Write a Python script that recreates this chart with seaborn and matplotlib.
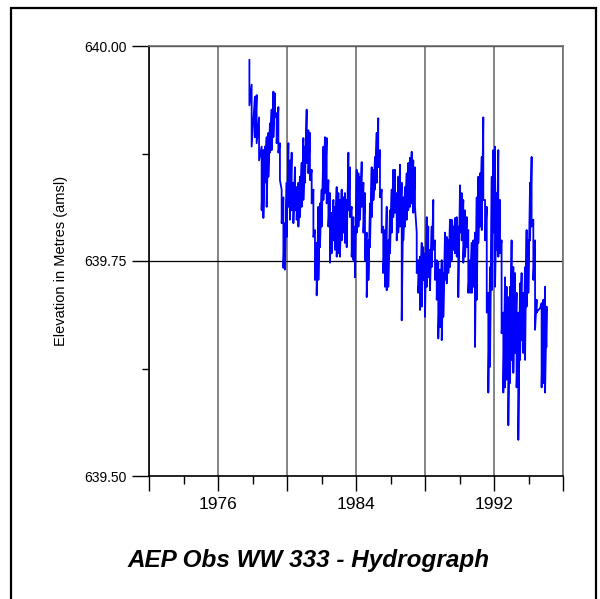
import numpy as np
import pandas as pd
import matplotlib
matplotlib.use("Agg")
import matplotlib.pyplot as plt
import seaborn as sns
from matplotlib.patches import Rectangle
from matplotlib.ticker import FixedLocator, FormatStrFormatter

# ---- data (upper / lower envelope per sample column) ----
years = [
    1977.82, 1977.95, 1978.14, 1978.24, 1978.38, 1978.53, 1978.63, 1978.72, 1978.82, 1978.92,
    1979.01, 1979.11, 1979.21, 1979.30, 1979.40, 1979.50, 1979.59, 1979.69, 1979.79, 1979.88,
    1979.98, 1980.08, 1980.17, 1980.27, 1980.37, 1980.46, 1980.56, 1980.66, 1980.75, 1980.85,
    1980.95, 1981.04, 1981.14, 1981.24, 1981.33, 1981.43, 1981.53, 1981.62, 1981.72, 1981.82,
    1981.91, 1982.01, 1982.11, 1982.20, 1982.30, 1982.40, 1982.49, 1982.59, 1982.69, 1982.78,
    1982.88, 1982.98, 1983.07, 1983.17, 1983.27, 1983.36, 1983.46, 1983.56, 1983.65, 1983.75,
    1983.85, 1983.94, 1984.04, 1984.14, 1984.23, 1984.33, 1984.43, 1984.52, 1984.62, 1984.72,
    1984.81, 1984.91, 1985.01, 1985.10, 1985.20, 1985.29, 1985.39, 1985.49, 1985.58, 1985.68,
    1985.78, 1985.87, 1985.97, 1986.07, 1986.16,
    1986.26, 1986.36, 1986.45, 1986.55, 1986.65, 1986.74, 1986.84, 1986.94, 1987.03, 1987.13,
    1987.23, 1987.32, 1987.42, 1987.52, 1987.61, 1987.71, 1987.81, 1987.90, 1988.00, 1988.10,
    1988.19, 1988.29, 1988.39, 1988.48, 1988.58, 1988.68, 1988.77, 1988.87, 1988.97, 1989.06,
    1989.16, 1989.26, 1989.35, 1989.45, 1989.55, 1989.64, 1989.74, 1989.84, 1989.93, 1990.03,
    1990.13, 1990.22, 1990.32, 1990.42, 1990.51,
    1990.61, 1990.71, 1990.80, 1990.90, 1991.00, 1991.09, 1991.19, 1991.29, 1991.38, 1991.48,
    1991.58, 1991.67, 1991.77, 1991.87, 1991.96, 1992.06, 1992.16, 1992.25, 1992.35, 1992.44,
    1992.54, 1992.64, 1992.73, 1992.83, 1992.93, 1993.02, 1993.12, 1993.22, 1993.31, 1993.41,
    1993.51, 1993.60, 1993.70, 1993.80, 1993.89, 1993.99, 1994.09, 1994.18, 1994.28, 1994.38,
    1994.47, 1994.57, 1994.67, 1994.76, 1994.86, 1994.96, 1995.05,
]

highs = [
    639.984, 639.955, 639.941, 639.943, 639.917, 639.883, 639.879, 639.883, 639.894, 639.899,
    639.910, 639.926, 639.947, 639.945, 639.922, 639.929, 639.887, 639.833, 639.824, 639.794,
    639.841, 639.887, 639.867, 639.876, 639.841, 639.859, 639.836, 639.841, 639.848, 639.864,
    639.893, 639.883, 639.926, 639.902, 639.899, 639.856, 639.833, 639.786, 639.771, 639.813,
    639.817, 639.833, 639.883, 639.894, 639.893, 639.844, 639.829, 639.806, 639.821, 639.813,
    639.836, 639.829, 639.821, 639.833, 639.824, 639.829, 639.821, 639.876, 639.859, 639.813,
    639.801, 639.790, 639.856, 639.852, 639.848, 639.865, 639.841, 639.829, 639.783, 639.774,
    639.817, 639.859, 639.856, 639.871, 639.899, 639.916, 639.879, 639.833, 639.790, 639.786,
    639.813, 639.774, 639.809, 639.833, 639.856,
    639.856, 639.829, 639.848, 639.862, 639.841, 639.824, 639.836, 639.852, 639.864, 639.870,
    639.877, 639.867, 639.859, 639.783, 639.751, 639.755, 639.771, 639.766, 639.759, 639.801,
    639.790, 639.763, 639.790, 639.821, 639.774, 639.751, 639.748, 639.740, 639.751, 639.736,
    639.783, 639.778, 639.774, 639.798, 639.798, 639.790, 639.800, 639.801, 639.790, 639.838,
    639.829, 639.821, 639.809, 639.801, 639.786,
    639.751, 639.771, 639.774, 639.783, 639.824, 639.848, 639.852, 639.871, 639.917, 639.821,
    639.813, 639.713, 639.743, 639.848, 639.879, 639.883, 639.829, 639.879, 639.821, 639.774,
    639.690, 639.731, 639.720, 639.708, 639.720, 639.774, 639.743, 639.736, 639.713, 639.690,
    639.724, 639.736, 639.713, 639.743, 639.786, 639.774, 639.841, 639.871, 639.798, 639.774,
    639.705, 639.693, 639.695, 639.701, 639.705, 639.720, 639.697,
]

lows = [
    639.931, 639.883, 639.894, 639.887, 639.867, 639.809, 639.800, 639.841, 639.813, 639.848,
    639.876, 639.879, 639.894, 639.917, 639.887, 639.876, 639.844, 639.794, 639.742, 639.740,
    639.778, 639.813, 639.798, 639.809, 639.794, 639.809, 639.798, 639.790, 639.801, 639.813,
    639.821, 639.841, 639.864, 639.852, 639.844, 639.817, 639.778, 639.728, 639.710, 639.728,
    639.766, 639.790, 639.821, 639.829, 639.817, 639.790, 639.748, 639.759, 639.774, 639.763,
    639.755, 639.759, 639.755, 639.774, 639.783, 639.771, 639.766, 639.809, 639.801, 639.755,
    639.751, 639.731, 639.783, 639.790, 639.798, 639.813, 639.783, 639.751, 639.708, 639.728,
    639.766, 639.801, 639.821, 639.833, 639.841, 639.859, 639.824, 639.783, 639.736, 639.720,
    639.716, 639.720, 639.759, 639.783, 639.801,
    639.806, 639.774, 639.783, 639.790, 639.681, 639.774, 639.790, 639.798, 639.809, 639.813,
    639.817, 639.806, 639.813, 639.736, 639.713, 639.693, 639.697, 639.728, 639.685, 639.720,
    639.731, 639.716, 639.743, 639.763, 639.728, 639.705, 639.660, 639.673, 639.658, 639.685,
    639.728, 639.724, 639.736, 639.743, 639.751, 639.763, 639.759, 639.755, 639.708, 639.783,
    639.774, 639.748, 639.755, 639.766, 639.713,
    639.713, 639.713, 639.720, 639.650, 639.705, 639.771, 639.790, 639.786, 639.821, 639.774,
    639.690, 639.597, 639.627, 639.716, 639.783, 639.720, 639.763, 639.755, 639.759, 639.666,
    639.597, 639.603, 639.612, 639.559, 639.608, 639.635, 639.620, 639.643, 639.603, 639.542,
    639.635, 639.658, 639.643, 639.635, 639.697, 639.713, 639.774, 639.790, 639.728, 639.670,
    639.690, 639.693, 639.695, 639.603, 639.608, 639.597, 639.650,
]

major_years = [1972, 1976, 1980, 1984, 1988, 1992, 1996]
minor_years = [1974, 1978, 1982, 1986, 1990, 1994]
year_labels = ["", "1976", "", "1984", "", "1992", ""]
elev_major = [639.50, 639.75, 640.00]
elev_minor = [639.625, 639.875]

# interleave the envelope into one continuous trace
rows = []
for yr, hi, lo in zip(years, highs, lows):
    rows.append((yr, hi))
    rows.append((yr, lo))
df = pd.DataFrame(rows, columns=["Year", "Elevation"])

sns.set_style("white")
plt.rcParams["font.family"] = ["Liberation Sans", "DejaVu Sans"]
plt.rcParams["text.color"] = "black"
plt.rcParams["axes.labelcolor"] = "black"
plt.rcParams["xtick.color"] = "black"
plt.rcParams["ytick.color"] = "black"

fig = plt.figure(figsize=(6, 5.99), dpi=100)
ax = fig.add_axes([149 / 600, 1 - 476 / 599, 414 / 600, 430 / 599])

sns.lineplot(data=df, x="Year", y="Elevation", sort=False, estimator=None,
             color="#0000ff", linewidth=1.3, ax=ax)

ax.set_xlim(1972, 1996)
ax.set_ylim(639.5, 640.0)

ax.xaxis.set_major_locator(FixedLocator(major_years))
ax.xaxis.set_minor_locator(FixedLocator(minor_years))
ax.set_xticklabels(year_labels, fontsize=12.5)
ax.yaxis.set_major_locator(FixedLocator(elev_major))
ax.yaxis.set_minor_locator(FixedLocator(elev_minor))
ax.yaxis.set_major_formatter(FormatStrFormatter("%.2f"))

ax.tick_params(axis="x", which="major", direction="out", length=11, width=1,
               color="black", pad=4, bottom=True)
ax.tick_params(axis="x", which="minor", direction="out", length=6, width=1,
               color="black", bottom=True)
ax.tick_params(axis="y", which="major", direction="out", length=12, width=1,
               color="black", pad=4, labelsize=10, left=True)
ax.tick_params(axis="y", which="minor", direction="out", length=5, width=1,
               color="black", left=True)

ax.grid(axis="x", which="major", color="#707070", linewidth=1.2)
ax.grid(axis="y", which="major", color="black", linewidth=0.9)
ax.set_axisbelow(True)

for side in ["left", "bottom"]:
    ax.spines[side].set_color("black")
    ax.spines[side].set_linewidth(1.2)
for side in ["top", "right"]:
    ax.spines[side].set_color("#707070")
    ax.spines[side].set_linewidth(1.2)

ax.set_xlabel("")
ax.set_ylabel("Elevation in Metres (amsl)", fontsize=10.5)
ax.yaxis.set_label_coords(-0.195, 0.5)

fig.text(0.515, 1 - 561 / 599, "AEP Obs WW 333 - Hydrograph", ha="center", va="center",
         fontsize=17.5, fontweight="bold", fontstyle="italic", color="black")

# frame around the whole figure
fig.patches.append(Rectangle((11 / 600, -0.05), (596 - 11) / 600, 1.05 - 7.5 / 599,
                             transform=fig.transFigure, fill=False, lw=1.6,
                             edgecolor="black"))

fig.savefig("out.png", dpi=100)
